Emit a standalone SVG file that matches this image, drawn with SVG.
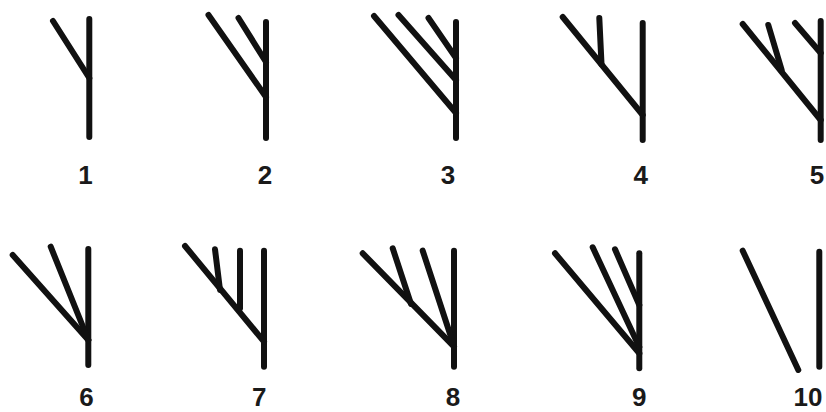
<svg xmlns="http://www.w3.org/2000/svg" width="826" height="412" viewBox="0 0 826 412">
<style>
.l{stroke:#111;stroke-width:6;stroke-linecap:round;fill:none}
.t{font-family:"Liberation Sans",Arial,sans-serif;font-weight:bold;font-size:26px;fill:#1a1a1a;text-anchor:middle}
</style>
<rect width="826" height="412" fill="#fff"/>
<g id="fig1">
<line class="l" x1="89.3" y1="19" x2="89.3" y2="137"/>
<line class="l" x1="53" y1="21" x2="89.3" y2="78"/>
<text class="t" x="85.5" y="184">1</text>
</g>
<g id="fig2">
<line class="l" x1="266" y1="22" x2="266" y2="138"/>
<line class="l" x1="208.5" y1="15" x2="266" y2="97"/>
<line class="l" x1="238.5" y1="18" x2="266" y2="62"/>
<text class="t" x="265" y="184">2</text>
</g>
<g id="fig3">
<line class="l" x1="456" y1="22" x2="456" y2="138"/>
<line class="l" x1="374" y1="16" x2="456" y2="113"/>
<line class="l" x1="398.5" y1="15" x2="456" y2="80"/>
<line class="l" x1="428.5" y1="18" x2="456" y2="58"/>
<text class="t" x="448" y="184">3</text>
</g>
<g id="fig4">
<line class="l" x1="642.7" y1="23" x2="642.7" y2="140"/>
<line class="l" x1="562.7" y1="17" x2="642.7" y2="115"/>
<line class="l" x1="599.3" y1="18" x2="601.5" y2="64"/>
<text class="t" x="640.7" y="184">4</text>
</g>
<g id="fig5">
<line class="l" x1="820.7" y1="21" x2="820.7" y2="140"/>
<line class="l" x1="742.7" y1="24" x2="820.7" y2="120"/>
<line class="l" x1="768.3" y1="25" x2="781.7" y2="70"/>
<line class="l" x1="795" y1="23" x2="820.7" y2="53"/>
<text class="t" x="817" y="184">5</text>
</g>
<g id="fig6">
<line class="l" x1="88.3" y1="249" x2="88.3" y2="365"/>
<line class="l" x1="12.7" y1="255" x2="88.3" y2="340"/>
<line class="l" x1="50.7" y1="246.7" x2="88.3" y2="340"/>
<text class="t" x="86.5" y="406">6</text>
</g>
<g id="fig7">
<line class="l" x1="264" y1="250.7" x2="264" y2="366.7"/>
<line class="l" x1="185" y1="246" x2="264" y2="341.7"/>
<line class="l" x1="215" y1="249.3" x2="220" y2="290"/>
<line class="l" x1="240" y1="250.7" x2="240" y2="308.3"/>
<text class="t" x="259.3" y="406">7</text>
</g>
<g id="fig8">
<line class="l" x1="454" y1="250.7" x2="454" y2="366.7"/>
<line class="l" x1="362.7" y1="253.3" x2="454" y2="346.7"/>
<line class="l" x1="392.7" y1="248.3" x2="411" y2="304"/>
<line class="l" x1="422.7" y1="250.7" x2="453" y2="343"/>
<text class="t" x="453" y="406">8</text>
</g>
<g id="fig9">
<line class="l" x1="639.3" y1="253.3" x2="639.3" y2="368.3"/>
<line class="l" x1="555" y1="253.3" x2="639.3" y2="353.3"/>
<line class="l" x1="592.7" y1="247.3" x2="639.3" y2="347"/>
<line class="l" x1="615" y1="249.3" x2="639.3" y2="305"/>
<text class="t" x="639.3" y="406">9</text>
</g>
<g id="fig10">
<line class="l" x1="819.3" y1="251.7" x2="819.3" y2="366.7"/>
<line class="l" x1="742.7" y1="250.7" x2="798.3" y2="370"/>
<text class="t" x="808" y="406">10</text>
</g>
</svg>
